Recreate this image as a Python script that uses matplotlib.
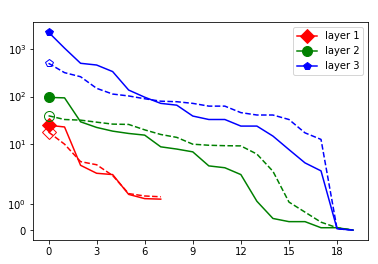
import numpy as np
import matplotlib
matplotlib.use("Agg")
import matplotlib.pyplot as plt
from matplotlib.ticker import NullLocator

# Values
steps = np.arange(20)
steps_short = np.arange(8)

layer1_solid = [25, 23, 3.6, 2.45, 2.3, 1.36, 1.2, 1.18]
layer1_dashed = [18, 10, 4.3, 3.7, 2.2, 1.39, 1.3, 1.27]

layer2_solid = [96, 94, 29.5, 22.5, 18.8, 16.8, 15.5, 8.8, 7.9, 6.9,
                3.5, 3.2, 2.3, 1.1, 0.45, 0.33, 0.33, 0.1, 0.1, 0.01]
layer2_dashed = [39.5, 33, 32, 29, 26.4, 26, 20, 16, 13.9, 10,
                 9.5, 9.3, 9.2, 6.2, 2.7, 1.07, 0.69, 0.31, 0.1, 0.01]

layer3_solid = [2250, 1040, 500, 460, 335, 137, 97, 72, 66, 39,
                33, 33, 24, 24, 14.8, 7.7, 4.05, 2.75, 0.06, 0.01]
layer3_dashed = [500, 318, 261, 149, 113, 103, 90, 80, 78, 72,
                 63, 63, 46, 41, 41, 33, 17.3, 12.6, 0.06, 0.01]

labels = ["layer 1", "layer 2", "layer 3"]
colors = ["red", "green", "blue"]
markers = ["D", "o", "p"]
marker_sizes = [10, 10, 8]

fig = plt.figure(figsize=(378 / 72, 264 / 72), dpi=72)
ax = fig.add_axes([33.3 / 378, 1 - 240 / 264, 335 / 378, 217.7 / 264])

series = [
    (steps_short, layer1_solid, layer1_dashed),
    (steps, layer2_solid, layer2_dashed),
    (steps, layer3_solid, layer3_dashed),
]

for (x, solid, dashed), label, c, m, ms in zip(series, labels, colors,
                                               markers, marker_sizes):
    ax.plot(x, solid, color=c, marker=m, markersize=ms, markevery=[0],
            label=label)
    ax.plot(x, dashed, color=c, linestyle="--", marker=m, markersize=ms,
            markevery=[0], markerfacecolor="none")

# Format the plot
ax.set_yscale("symlog", linthresh=2)
ax.set_yticks([0, 1, 10, 100, 1000])
ax.yaxis.set_minor_locator(NullLocator())
ax.set_xticks(range(0, 19, 3))
ax.legend(loc="upper right")

plt.savefig("out.png", dpi=72)
